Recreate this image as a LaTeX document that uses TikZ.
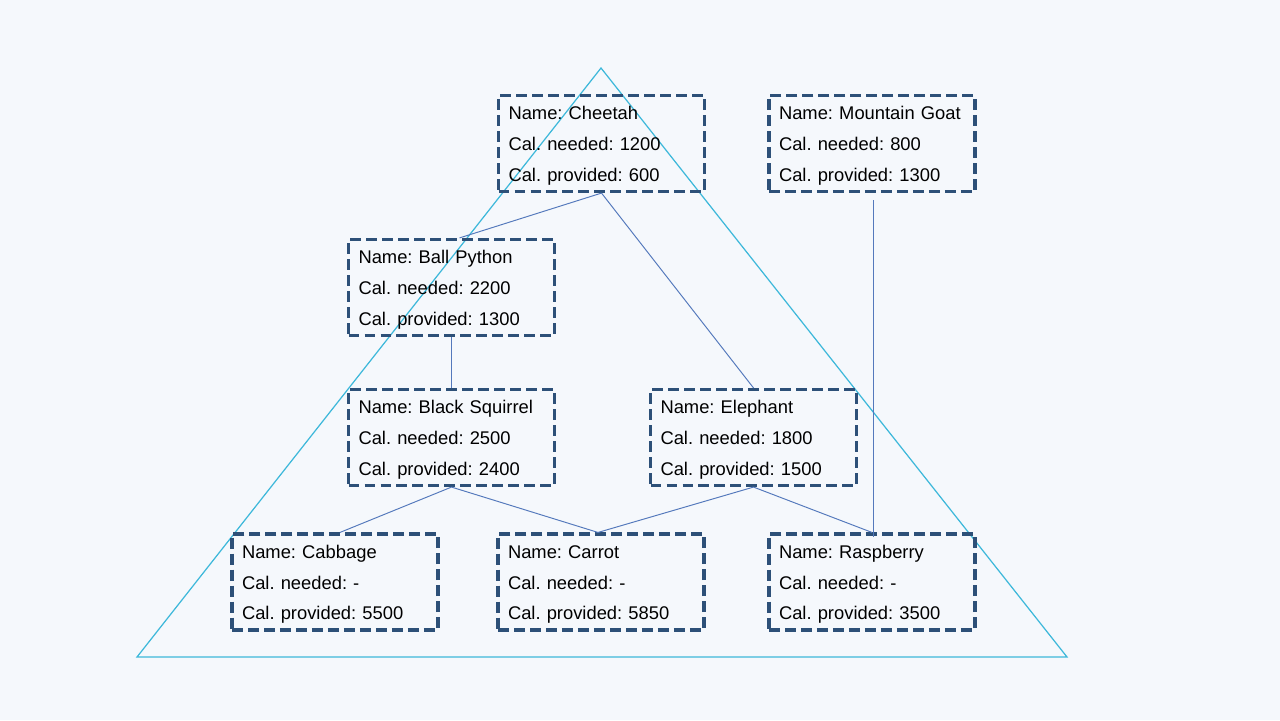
\documentclass[tikz,border=0pt]{standalone}
\usepackage{fontspec}
\setmainfont{Liberation Sans}
\usetikzlibrary{calc}
\frenchspacing
\definecolor{bgc}{HTML}{F5F8FC}
\definecolor{boxc}{HTML}{2D5078}
\definecolor{linec}{HTML}{5479BC}
\definecolor{tric}{HTML}{3DB8DA}
\tikzset{
  animal/.style={draw=boxc, line width=1.8pt, dash pattern=on 6.2pt off 2.9pt,
    minimum width=4.12cm, minimum height=1.92cm, text width=3.72cm, inner xsep=0.2cm,
    align=left, font=\fontsize{10.45}{17.4}\selectfont, text=black,
    execute at begin node={\rule{0pt}{10.2pt}}},
  link/.style={draw=linec, line width=0.55pt},
  tri/.style={draw=tric, line width=0.7pt}
}
\begin{document}
\begin{tikzpicture}[x=0.02cm, y=-0.02cm]
\useasboundingbox[fill=bgc] (0,0) rectangle (1280,720);
\coordinate (apex) at (601,68);
\coordinate (bl) at (137,657);
\coordinate (br) at (1067,657);
\draw[tri] (apex) -- (bl) -- (br) -- cycle;
\node[animal] (cheetah) at (601.5,143.5) {Name: Cheetah\\Cal. needed: 1200\\Cal. provided: 600};
\node[animal] (goat) at (872,143.5) {\mbox{Name: Mountain Goat}\\Cal. needed: 800\\Cal. provided: 1300};
\node[animal] (python) at (451.5,287.5) {Name: Ball Python\\Cal. needed: 2200\\Cal. provided: 1300};
\node[animal] (squirrel) at (451.5,437.5) {Name: Black Squirrel\\Cal. needed: 2500\\Cal. provided: 2400};
\node[animal] (elephant) at (753.5,437.5) {Name: Elephant\\Cal. needed: 1800\\Cal. provided: 1500};
\node[animal] (cabbage) at (335,582) {Name: Cabbage\\Cal. needed: -\\Cal. provided: 5500};
\node[animal] (carrot) at (601,582) {Name: Carrot\\Cal. needed: -\\Cal. provided: 5850};
\node[animal] (raspberry) at (872,582) {Name: Raspberry\\Cal. needed: -\\Cal. provided: 3500};
\draw[link] (cheetah.south) -- ($(python.north)+(8,0)$);
\draw[link] (cheetah.south) -- (elephant.north);
\draw[link] (python.south) -- (squirrel.north);
\draw[link] (squirrel.south) -- ($(cabbage.north)+(5,0)$);
\draw[link] (squirrel.south) -- ($(carrot.north)+(-3,0)$);
\draw[link] (elephant.south) -- ($(carrot.north)+(-3,0)$);
\draw[link] (elephant.south) -- (raspberry.north);
\draw[link] ($(goat.south)+(1,7)$) -- ($(raspberry.north)+(1,5)$);
\end{tikzpicture}
\end{document}
